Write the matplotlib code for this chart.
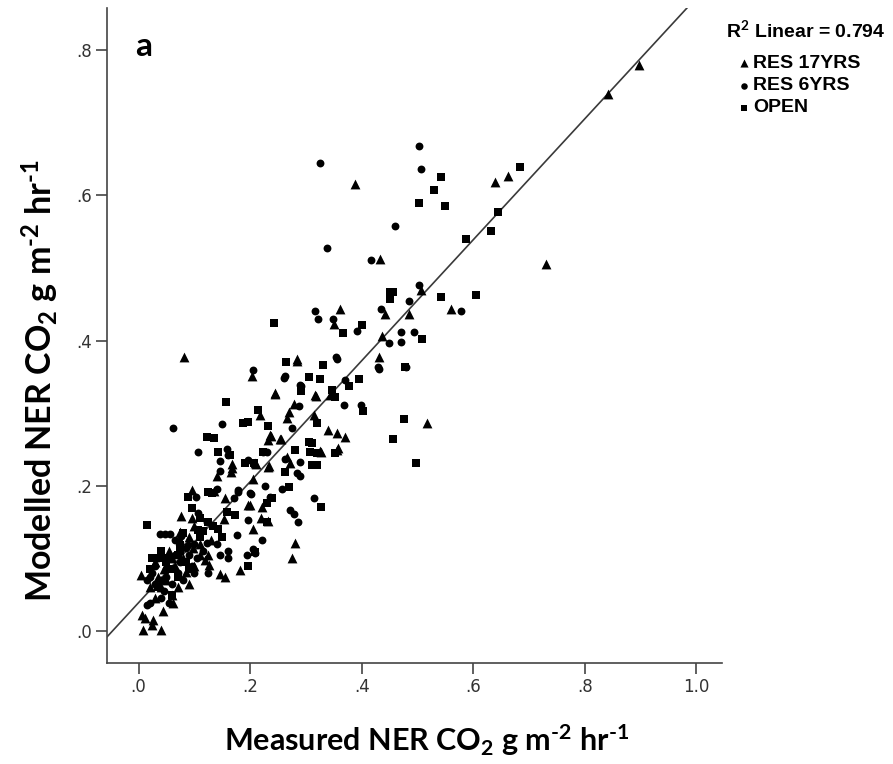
import matplotlib
matplotlib.use("Agg")
import matplotlib.pyplot as plt
import numpy as np

# ---------------- data ----------------
res17_x = [0.897,0.841,0.662,0.639,0.388,0.433,0.731,0.507,0.560,0.484,0.441,0.361,0.351,0.436,0.082,0.285,0.432,
           0.203,0.284,0.244,0.317,0.344,0.278,0.269,0.266,0.314,0.340,0.356,0.371,0.518,0.236,0.233,0.253,0.218,
           0.266,0.272,0.326,0.358,0.232,0.209,0.221,0.197,0.220,0.233,0.206,0.280,0.275,
           0.168,0.166,0.140,0.167,0.095,0.155,0.077,0.095,0.154,0.074,0.098,0.135,0.199,0.211,0.205,0.234,0.255,0.238,0.327,0.356,0.245,0.319,
           0.004,0.006,0.012,0.008,0.026,0.024,0.040,0.044,0.062,0.060,0.120,0.126,0.146,0.155,0.182,0.040,0.050,0.065,0.080,0.085,0.090,0.030,0.070,0.100,0.110,0.020,0.035,
           0.030,0.055,0.075,0.090,0.110,0.130,0.060,0.045,0.100,0.125]
res17_y = [0.779,0.739,0.627,0.619,0.615,0.512,0.505,0.469,0.444,0.437,0.437,0.444,0.423,0.406,0.377,0.372,0.377,
           0.351,0.374,0.328,0.325,0.325,0.313,0.302,0.294,0.297,0.277,0.273,0.267,0.287,0.270,0.263,0.264,0.297,
           0.240,0.231,0.248,0.252,0.226,0.231,0.171,0.173,0.155,0.152,0.141,0.121,0.101,
           0.225,0.219,0.213,0.230,0.194,0.183,0.159,0.156,0.154,0.137,0.114,0.193,0.174,0.230,0.210,0.227,0.264,0.268,0.247,0.250,0.327,0.324,
           0.077,0.022,0.018,0.002,0.015,0.008,0.002,0.027,0.038,0.050,0.098,0.091,0.079,0.075,0.084,0.060,0.070,0.090,0.100,0.082,0.065,0.045,0.060,0.090,0.105,0.060,0.075,
           0.095,0.110,0.125,0.130,0.120,0.125,0.100,0.085,0.145,0.105]

res6_x = [0.502,0.326,0.507,0.460,0.338,0.417,0.502,0.485,0.578,0.434,0.316,0.322,0.349,0.391,0.470,0.494,0.449,0.470,0.356,0.432,0.480,0.430,
          0.205,0.261,0.292,0.370,0.354,0.262,0.290,0.398,0.369,0.288,0.276,0.062,0.149,0.106,0.158,0.161,0.146,0.146,0.224,0.230,0.289,0.284,0.290,
          0.226,0.257,0.200,0.236,0.314,0.272,0.278,0.286,0.197,0.221,0.206,0.103,0.140,0.171,0.179,0.106,0.122,0.088,0.122,0.176,0.077,0.038,0.048,0.057,
          0.194,0.208,0.146,0.161,0.016,0.020,0.040,0.055,0.197,0.202,0.178,0.262,
          0.030,0.050,0.070,0.040,0.060,0.025,0.080,0.090,0.100,0.045,0.055,0.015,0.100,0.125,0.160,
          0.035,0.065,0.085,0.105,0.020,0.050,0.075,0.095,0.115,0.140,0.065,0.030]
res6_y = [0.668,0.645,0.636,0.558,0.527,0.511,0.476,0.455,0.441,0.443,0.441,0.430,0.430,0.413,0.412,0.412,0.397,0.398,0.375,0.361,0.363,0.364,
          0.360,0.349,0.337,0.346,0.378,0.351,0.339,0.311,0.311,0.310,0.279,0.279,0.285,0.246,0.251,0.242,0.234,0.220,0.247,0.247,0.233,0.218,0.214,
          0.200,0.196,0.190,0.184,0.183,0.167,0.161,0.150,0.153,0.125,0.113,0.184,0.196,0.183,0.194,0.162,0.150,0.118,0.121,0.132,0.131,0.133,0.134,0.133,
          0.105,0.108,0.105,0.100,0.036,0.038,0.045,0.038,0.235,0.189,0.192,0.237,
          0.090,0.085,0.080,0.070,0.065,0.080,0.070,0.105,0.080,0.055,0.100,0.070,0.120,0.080,0.110,
          0.100,0.105,0.115,0.100,0.075,0.075,0.095,0.090,0.110,0.120,0.125,0.065]

open_x = [0.684,0.543,0.529,0.502,0.550,0.644,0.632,0.587,0.451,0.457,0.450,0.543,0.605,0.508,0.243,0.367,0.401,0.264,0.330,0.477,0.306,0.326,
          0.291,0.347,0.377,0.395,0.352,0.402,0.320,0.215,0.197,0.232,0.476,0.456,0.497,0.157,0.122,0.135,0.188,0.305,0.311,0.280,0.308,0.320,0.353,
          0.311,0.320,0.262,0.269,0.230,0.328,0.142,0.164,0.191,0.207,0.089,0.125,0.131,0.095,0.110,0.158,0.173,0.016,0.106,0.115,0.134,0.143,0.074,
          0.196,0.209,0.230,0.239,0.224,
          0.030,0.050,0.070,0.035,0.060,0.020,0.085,0.075,
          0.040,0.070,0.090,0.060,0.025,0.110,0.080,0.045,0.125,0.150]
open_y = [0.639,0.625,0.607,0.590,0.585,0.577,0.551,0.540,0.467,0.467,0.457,0.460,0.463,0.402,0.424,0.410,0.422,0.370,0.367,0.364,0.350,0.347,
          0.330,0.332,0.338,0.347,0.322,0.303,0.287,0.305,0.288,0.282,0.292,0.265,0.232,0.316,0.267,0.266,0.286,0.261,0.259,0.249,0.247,0.245,0.245,
          0.228,0.228,0.219,0.199,0.176,0.171,0.246,0.242,0.231,0.231,0.185,0.191,0.190,0.170,0.156,0.164,0.160,0.146,0.139,0.138,0.144,0.141,0.118,
          0.090,0.109,0.150,0.183,0.246,
          0.100,0.095,0.075,0.060,0.050,0.085,0.095,0.110,
          0.110,0.105,0.085,0.085,0.100,0.130,0.135,0.100,0.150,0.130]

fit_intercept = 0.039
fit_slope = 0.833
r2_text = "0.794"
x_ticks = [0.0, 0.2, 0.4, 0.6, 0.8, 1.0]
x_tick_labels = [".0", ".2", ".4", ".6", ".8", "1.0"]
y_ticks = [0.0, 0.2, 0.4, 0.6, 0.8]
y_tick_labels = [".0", ".2", ".4", ".6", ".8"]
series_names = ["RES 17YRS", "RES 6YRS", "OPEN"]

# ---------------- figure ----------------
plt.rcParams['mathtext.fontset'] = 'custom'
plt.rcParams['mathtext.rm'] = 'Lato:bold'
plt.rcParams['mathtext.bf'] = 'Lato:bold'
plt.rcParams['mathtext.default'] = 'rm'

W, H = 893, 764
fig = plt.figure(figsize=(W/100, H/100), dpi=100)
L, R, B, T = 107, 722, 663, 8
ax = fig.add_axes([L/W, 1-B/H, (R-L)/W, (B-T)/H])
xmin, xmax = -0.0565, 1.046
ymin, ymax = -0.044, 0.858
ax.set_xlim(xmin, xmax)
ax.set_ylim(ymin, ymax)

ax.scatter(res17_x, res17_y, marker='^', s=50, c='black', linewidths=0, zorder=3)
ax.scatter(res6_x, res6_y, marker='o', s=32, c='black', linewidths=0, zorder=3)
ax.scatter(open_x, open_y, marker='s', s=30, c='black', linewidths=0, zorder=3)

xx = np.array([xmin, xmax])
ax.plot(xx, fit_intercept + fit_slope*xx, color='#3a3a3a', lw=1.2, zorder=2, clip_on=True)

for s in ['top', 'right']:
    ax.spines[s].set_visible(False)
for s in ['left', 'bottom']:
    ax.spines[s].set_color('#444444')
    ax.spines[s].set_linewidth(1.2)

ax.set_xticks(x_ticks)
ax.set_xticklabels(x_tick_labels)
ax.set_yticks(y_ticks)
ax.set_yticklabels(y_tick_labels)
ax.tick_params(axis='both', direction='out', length=8, width=1.2, color='#444444',
               labelsize=12, labelcolor='#333333', pad=3)

ax.text(-0.006, 0.805, "a", fontsize=24, fontweight='bold', family='Lato', va='center', ha='left')

xlabel = r"Measured NER CO$_{2}$ g m$^{\text{-}2}$ hr$^{\text{-}1}$"
ylabel = r"Modelled NER CO$_{2}$ g m$^{\text{-}2}$ hr$^{\text{-}1}$"
fig.text(427/W, 1-740/H, xlabel, ha='center', va='center',
         fontsize=22, fontweight='bold', family='Lato')
fig.text(40/W, 1-381/H, ylabel, ha='center', va='center',
         rotation=90, fontsize=24.5, fontweight='bold', family='Lato')

# legend
ov = fig.add_axes([0, 0, 1, 1], facecolor='none')
ov.set_xlim(0, W)
ov.set_ylim(H, 0)
ov.axis('off')
ov.text(726, 31, r"R$^{2}$ Linear = " + r2_text, fontsize=14, fontweight='bold',
        family='Liberation Sans', va='center', ha='left')
markers = ['^', 'o', 's']
msizes = [34, 22, 22]
ys = [63, 86, 108]
for m, ms, yy, name in zip(markers, msizes, ys, series_names):
    ov.scatter([744], [yy], marker=m, s=ms, c='black', linewidths=0)
    ov.text(753, yy, name, fontsize=14, fontweight='bold', family='Liberation Sans',
            va='center', ha='left')

fig.savefig("out.png", dpi=100)
